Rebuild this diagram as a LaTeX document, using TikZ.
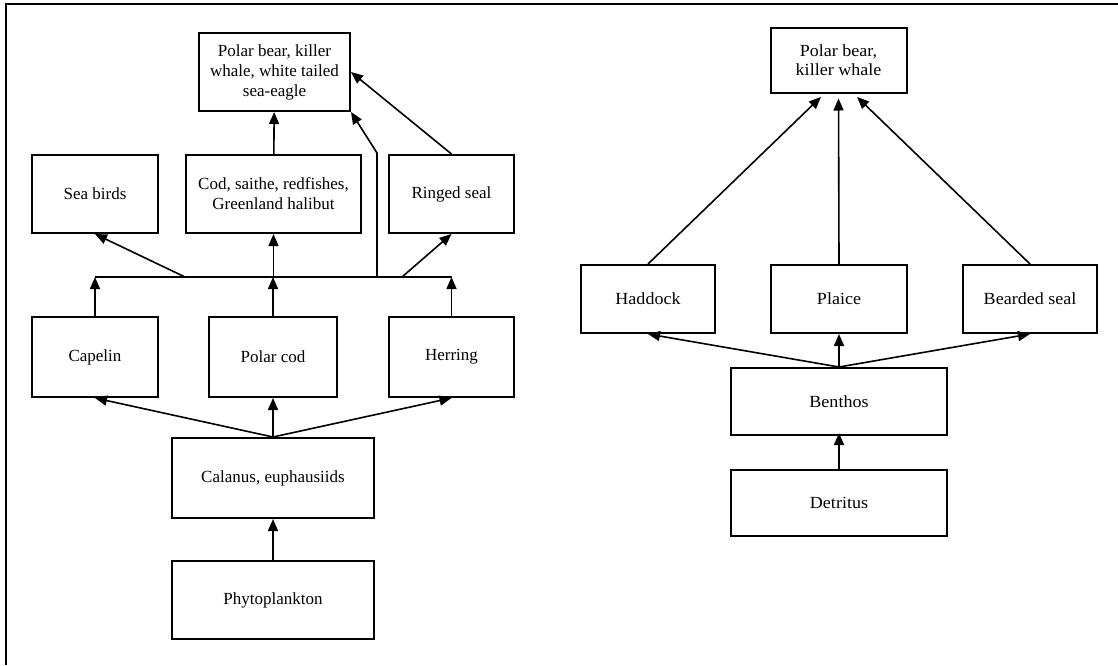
\documentclass[tikz,border=0pt]{standalone}
\usepackage{fontspec}
\setmainfont{Liberation Serif}
\newfontfamily\widefont[FakeStretch=1.06]{Liberation Serif}
\usetikzlibrary{arrows.meta}
\tikzset{
	taxon/.style={draw, line width=2pt, align=center, inner sep=0pt, font=\fontsize{17}{20}\selectfont},
	taxonwide/.style={taxon, font=\widefont\fontsize{17}{19}\selectfont},
	feeds/.style={line width=1.6pt, -{Triangle[length=12pt,width=10pt]}},
}

\begin{document}
\begin{tikzpicture}[x=1pt,y=-1pt]
			%%%%% START %%%%%
			\useasboundingbox (0,0) rectangle (1118,665);
			\draw[line width=2pt] (6,665) -- (6,4) -- (1118,4);
			
			%%%%% PELAGIC CHAIN %%%%%
			\node[taxon, minimum width=151pt, minimum height=78pt] (apex) at (274.5,72) {Polar bear, killer\\whale, white tailed\\sea-eagle};
			
			\node[taxon, minimum width=126pt, minimum height=78pt] (seabirds) at (95,194) {Sea birds};
			\node[taxon, minimum width=175pt, minimum height=78pt] (cod) at (273.5,194) {Cod, saithe, redfishes,\\Greenland halibut};
			\node[taxon, minimum width=125pt, minimum height=78pt] (ringed) at (451.5,194) {Ringed seal};
			
			\node[taxon, minimum width=126pt, minimum height=80pt] (capelin) at (95,357) {Capelin};
			\node[taxon, minimum width=128pt, minimum height=80pt] (polarcod) at (273,357) {Polar cod};
			\node[taxon, minimum width=125pt, minimum height=80pt] (herring) at (451.5,357) {Herring};
			
			\node[taxon, minimum width=202pt, minimum height=80pt] (calanus) at (273,478) {Calanus, euphausiids};
			\node[taxon, minimum width=202pt, minimum height=78pt] (phyto) at (273,600) {Phytoplankton};
			
			\coordinate (busL) at (95,277);
			\coordinate (busR) at (451.5,277);
			\coordinate (busbird) at (185,277);
			\coordinate (busseal) at (402,277);
			\coordinate (busup) at (377,277);
			\coordinate (fork) at (377,153);
			
			\draw[line width=1.6pt] (busL) -- (busR);
			\draw[feeds] (phyto) -- (calanus);
			\draw[feeds] (calanus.north) -- (capelin.south);
			\draw[feeds] (calanus.north) -- (polarcod.south);
			\draw[feeds] (calanus.north) -- (herring.south);
			\draw[feeds] (capelin.north) -- (capelin.north |- busL);
			\draw[feeds] (polarcod.north) -- (polarcod.north |- busL);
			\draw[feeds] (herring.north) -- (herring.north |- busL);
			\draw[feeds] (busbird) -- (seabirds.south);
			\draw[feeds] (cod.south |- busL) -- (cod.south);
			\draw[feeds] (busseal) -- (ringed.south);
			\draw[feeds] (cod) -- (apex);
			\draw[feeds] (busup) -- (fork) -- (apex.south east);
			\draw[feeds] (ringed.north) -- (apex.east);
			
			%%%%% BENTHIC CHAIN %%%%%
			\node[taxonwide, minimum width=136pt, minimum height=65pt] (apexR) at (838.5,60) {Polar bear,\\killer whale};
			
			\node[taxonwide, minimum width=134pt, minimum height=68pt] (haddock) at (648,299) {Haddock};
			\node[taxonwide, minimum width=136pt, minimum height=68pt] (plaice) at (839,299) {Plaice};
			\node[taxonwide, minimum width=134pt, minimum height=68pt] (bearded) at (1030,299) {Bearded seal};
			
			\node[taxonwide, minimum width=216pt, minimum height=67pt] (benthos) at (839,401.5) {Benthos};
			\node[taxonwide, minimum width=216pt, minimum height=66pt] (detritus) at (839,503) {Detritus};
			
			\draw[feeds] (detritus) -- ([yshift=3pt]benthos.south);
			\draw[feeds] (benthos.north) -- (haddock.south);
			\draw[feeds] (benthos.north) -- (plaice.south);
			\draw[feeds] (benthos.north) -- (bearded.south);
			\draw[feeds, shorten >=5pt] (haddock.north) -- ([xshift=-14pt]apexR.south);
			\draw[feeds, shorten >=5pt] (plaice.north) -- (apexR.south);
			\draw[feeds, shorten >=5pt] (bearded.north) -- ([xshift=15pt]apexR.south);
			%%%%% END %%%%%
\end{tikzpicture}
\end{document}
